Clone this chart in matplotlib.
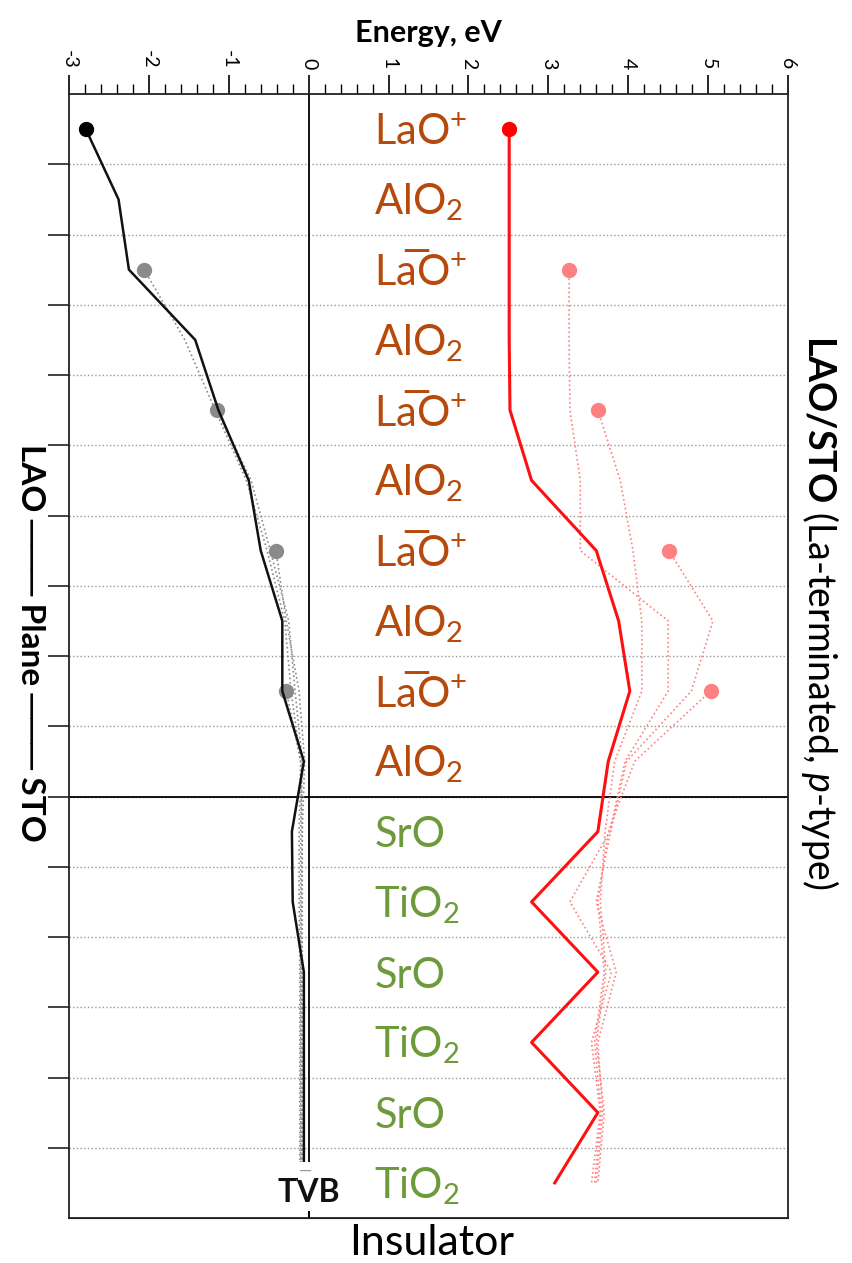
import numpy as np
import matplotlib.pyplot as plt

plt.rcParams['font.family'] = ['Lato', 'DejaVu Sans']
plt.rcParams['mathtext.fontset'] = 'custom'
plt.rcParams['mathtext.rm'] = 'Lato'
plt.rcParams['mathtext.it'] = 'Lato:italic'
plt.rcParams['mathtext.bf'] = 'Lato:bold'

nan = np.nan

# plane labels, top (LAO surface) to bottom (STO)
planes = [r'LaO$^{+}$', r'AlO$_{2}$', 'La\u0305O$^{+}$', r'AlO$_{2}$', 'La\u0305O$^{+}$',
          r'AlO$_{2}$', 'La\u0305O$^{+}$', r'AlO$_{2}$', 'La\u0305O$^{+}$', r'AlO$_{2}$',
          'SrO', r'TiO$_{2}$', 'SrO', r'TiO$_{2}$', 'SrO', r'TiO$_{2}$']
is_lao = [True] * 10 + [False] * 6

# valence band (black) for the full slab and thinner slabs (grey)
vb_main = [-2.79, -2.38, -2.25, -1.42, -1.13, -0.75, -0.60, -0.33, -0.33, -0.06,
           -0.21, -0.20, -0.06, -0.06, -0.06, -0.06]
vb_thin = [
    [nan, nan, -2.06, -1.55, -1.17, -0.78, -0.52, -0.30, -0.22, -0.10, -0.12, -0.12, -0.11, -0.11, -0.11, -0.11],
    [nan, nan, nan, nan, -1.15, -0.72, -0.48, -0.25, -0.17, -0.08, -0.10, -0.10, -0.10, -0.10, -0.10, -0.10],
    [nan, nan, nan, nan, nan, nan, -0.41, -0.28, -0.12, -0.05, -0.08, -0.09, -0.09, -0.09, -0.09, -0.09],
    [nan, nan, nan, nan, nan, nan, nan, nan, -0.28, -0.10, -0.08, -0.08, -0.08, -0.08, -0.08, -0.08],
]

# conduction band (red) for the full slab and thinner slabs (pink)
cb_main = [2.51, 2.51, 2.51, 2.51, 2.52, 2.79, 3.60, 3.88, 4.02, 3.75,
           3.62, 2.79, 3.62, 2.79, 3.62, 3.08]
cb_thin = [
    [nan, nan, 3.26, 3.26, 3.27, 3.40, 3.40, 4.50, 4.50, 3.96, 3.77, 3.27, 3.79, 3.54, 3.65, 3.54],
    [nan, nan, nan, nan, 3.62, 3.90, 4.06, 4.17, 4.17, 3.83, 3.71, 3.65, 3.72, 3.60, 3.70, 3.62],
    [nan, nan, nan, nan, nan, nan, 4.51, 5.06, 4.79, 3.98, 3.78, 3.60, 3.85, 3.62, 3.68, 3.60],
    [nan, nan, nan, nan, nan, nan, nan, nan, 5.03, 4.08, 3.75, 3.62, 3.70, 3.58, 3.66, 3.58],
]

y = np.arange(len(planes))

fig = plt.figure(figsize=(8.52, 12.63), dpi=100)
ax = fig.add_axes([69 / 852, 1 - 1218 / 1263, 719 / 852, 1124 / 1263])

for s in vb_thin:
    s = np.array(s)
    i0 = np.where(~np.isnan(s))[0][0]
    ax.plot(s, y, ':', color='#8a8a8a', lw=1.2, zorder=3)
    ax.plot(s[i0], y[i0], 'o', color='#8a8a8a', ms=10, zorder=4)
ax.plot(vb_main, y, '-', color='#111111', lw=1.8, zorder=5)
ax.plot(vb_main[0], y[0], 'o', color='black', ms=10, zorder=6)

for s in cb_thin:
    s = np.array(s)
    i0 = np.where(~np.isnan(s))[0][0]
    ax.plot(s, y, ':', color='#ff8080', lw=1.2, zorder=3)
    ax.plot(s[i0], y[i0], 'o', color='#ff8080', ms=10, zorder=4)
ax.plot(cb_main, y, '-', color='#ff1010', lw=2.2, zorder=5)
ax.plot(cb_main[0], y[0], 'o', color='#ff0000', ms=10, zorder=6)

# plane names
for yi, lab, lao in zip(y, planes, is_lao):
    ax.text(0.82, yi + 0.22, lab, fontsize=30, ha='left', va='baseline',
            color='#b64a0c' if lao else '#6d9a3b')

ax.set_xlim(-3, 6)
ax.set_ylim(15.5, -0.5)

# plane separators
seps = np.arange(0.5, 15, 1.0)
for s_ in seps:
    ax.axhline(s_, color='#9a9a9a', ls=':', lw=1.0, zorder=1)
ax.axhline(9.5, color='black', lw=1.3, zorder=2)
ax.axvline(0, color='black', lw=1.3, zorder=2)

ax.set_yticks(seps)
ax.set_yticklabels([])
ax.tick_params(axis='y', direction='out', length=15, width=1.3, color='#333333')

ax.xaxis.tick_top()
ax.set_xticks(np.arange(-3, 7, 1))
ax.set_xticks(np.arange(-3, 6.01, 0.2), minor=True)
ax.set_xticklabels([str(v) for v in range(-3, 7)], rotation=-90, fontsize=14)
ax.tick_params(axis='x', which='major', direction='out', length=14, width=1.2, pad=4)
ax.tick_params(axis='x', which='minor', direction='out', length=7, width=1.0)
ax.xaxis.set_label_position('top')
ax.set_xlabel('Energy, eV', fontsize=22, fontweight='bold', labelpad=6)

sec = ax.secondary_xaxis('bottom')
sec.set_xticks([0])
sec.set_xticklabels([])
sec.tick_params(direction='in', length=7, width=1.2)

for sp in ax.spines.values():
    sp.set_linewidth(1.3)
    sp.set_color('#222222')

ax.text(0, 15.13, 'TVB', fontsize=23, fontweight='bold', ha='center', va='center',
        color='#111111', bbox=dict(facecolor='white', edgecolor='none', pad=3), zorder=7)
ax.text(-0.04, 14.83, '\u2014', fontsize=12, ha='center', va='center', color='#999999',
        bbox=dict(facecolor='white', edgecolor='none', pad=1), zorder=9)

fig.text(0.507, 1 - 1243 / 1263, 'Insulator', fontsize=31, ha='center', va='center')
fig.text(30 / 852, 1 - 643 / 1263, 'LAO \u2500\u2500\u2500 Plane \u2500\u2500\u2500 STO',
         fontsize=24, fontweight='bold', rotation=-90, ha='center', va='center')
fig.text(820 / 852, 1 - 612 / 1263, r'$\mathbf{LAO/STO}$ (La-terminated, $\mathit{p}$-type)',
         fontsize=27, rotation=-90, ha='center', va='center')

fig.savefig('out.png', dpi=100)
